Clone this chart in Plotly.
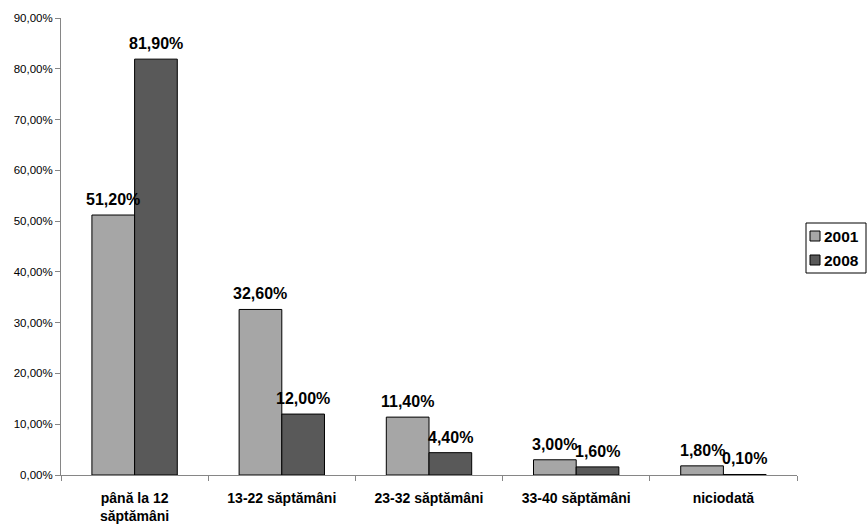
import plotly.graph_objects as go

# Gestational age at abortion, share of cases per interval
categories = ["până la 12<br>săptămâni", "13-22 săptămâni", "23-32 săptămâni",
              "33-40 săptămâni", "niciodată"]
values_2001 = [0.512, 0.326, 0.114, 0.030, 0.018]
values_2008 = [0.819, 0.120, 0.044, 0.016, 0.001]
series_names = ["2001", "2008"]
series_colors = ["#A6A6A6", "#595959"]

FONT = "Liberation Sans, Arial, sans-serif"
W, H = 867, 524
M = dict(l=61, r=70, t=18, b=49)
BARGAP = 0.42

series = list(zip(series_names, [values_2001, values_2008], series_colors))

fig = go.Figure()
for name, vals, color in series:
    fig.add_trace(go.Bar(
        name=name,
        x=categories,
        y=vals,
        marker=dict(color=color, line=dict(color="#000000", width=1)),
        hoverinfo="skip",
        showlegend=False,
    ))

# Value labels centred above each bar, lifted a little off the bar top
bar_w = (1 - BARGAP) / len(series)
for k, (name, vals, color) in enumerate(series):
    offset = (k - (len(series) - 1) / 2) * bar_w
    for i, v in enumerate(vals):
        fig.add_annotation(
            x=i + offset, y=v, xref="x", yref="y",
            text=f"{v * 100:.2f}%".replace(".", ","),
            showarrow=False, yanchor="bottom", yshift=5,
            font=dict(family=FONT, size=16, color="#000000", weight="bold"),
        )

# Boxed legend on the right-hand side
plot_w = W - M["l"] - M["r"]
plot_h = H - M["t"] - M["b"]


def px(x):
    return (x - M["l"]) / plot_w


def py(y):
    return (H - M["b"] - y) / plot_h


box_left, box_right, box_top, row_h = 806, 866, 223, 24
fig.add_shape(type="rect", xref="paper", yref="paper",
              x0=px(box_left), x1=px(box_right),
              y0=py(box_top), y1=py(box_top + row_h * len(series) + 2),
              line=dict(color="#000000", width=1), fillcolor="#FFFFFF")
for k, (name, vals, color) in enumerate(series):
    cy = box_top + 13 + k * row_h
    fig.add_shape(type="rect", xref="paper", yref="paper",
                  x0=px(box_left + 4), x1=px(box_left + 14),
                  y0=py(cy + 5), y1=py(cy - 5),
                  line=dict(color="#000000", width=1), fillcolor=color)
    fig.add_annotation(x=px(box_left + 16), y=py(cy), xref="paper", yref="paper",
                       text=name, showarrow=False, xanchor="left", yanchor="middle",
                       font=dict(family=FONT, size=15.5, color="#000000", weight="bold"))

fig.update_layout(
    width=W,
    height=H,
    separators=",.",
    barmode="group",
    bargap=BARGAP,
    bargroupgap=0,
    plot_bgcolor="#FFFFFF",
    paper_bgcolor="#FFFFFF",
    margin=M,
    font=dict(family=FONT, color="#000000"),
    showlegend=False,
)

fig.update_xaxes(
    type="category",
    automargin=False,
    showline=True, linecolor="#868686", linewidth=1,
    ticks="outside", tickson="boundaries", ticklen=5, tickcolor="#868686",
    ticklabelstandoff=10,
    showgrid=False,
    tickfont=dict(family=FONT, size=14, color="#000000", weight="bold"),
)
fig.update_yaxes(
    automargin=False,
    range=[0, 0.9],
    dtick=0.1,
    tickformat=".2%",
    showline=True, linecolor="#868686", linewidth=1,
    ticks="outside", ticklen=5, tickcolor="#868686",
    showgrid=False, zeroline=False,
    tickfont=dict(family=FONT, size=11.5, color="#000000"),
)

fig.write_html("out.html")
